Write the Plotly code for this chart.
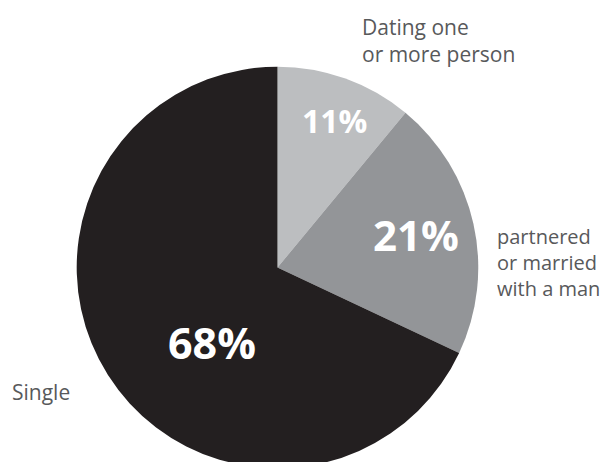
import plotly.graph_objects as go

categories = ["Dating one<br>or more person", "partnered<br>or married<br>with a man", "Single"]
values = [11, 21, 68]
colors = ["#bcbec0", "#939598", "#231f20"]
pct_sizes = [32, 42, 43]
label_sizes = [21, 20, 21]

# outside label anchor positions (paper coords)
label_x = [0.576, 0.7965, 0.004]
label_y = [0.930, 0.449, 0.168]

# percentage label anchor positions (paper coords)
pct_x = [0.5336, 0.6678, 0.3342]
pct_y = [0.7559, 0.5094, 0.2756]

fig = go.Figure(go.Pie(
    labels=categories,
    values=values,
    sort=False,
    direction="clockwise",
    rotation=0,
    marker=dict(colors=colors, line=dict(width=0)),
    textinfo="none",
    showlegend=False,
    hoverinfo="label+percent",
    domain=dict(x=[0.1124, 0.7697], y=[0.0037, 0.8729]),
))

for lab, x, y, s in zip(categories, label_x, label_y, label_sizes):
    fig.add_annotation(
        text=lab, x=x, y=y, xref="paper", yref="paper",
        xanchor="left", yanchor="middle", align="left", showarrow=False,
        font=dict(family="Open Sans", size=s, color="#58595b"),
    )

for v, x, y, s in zip(values, pct_x, pct_y, pct_sizes):
    fig.add_annotation(
        text=f"{v}%", x=x, y=y, xref="paper", yref="paper",
        xanchor="center", yanchor="middle", showarrow=False,
        font=dict(family="Open Sans", size=s, color="white", weight="bold"),
    )

fig.update_layout(
    width=611, height=462,
    margin=dict(l=0, r=0, t=0, b=0),
    paper_bgcolor="white",
)
fig.write_html("out.html")
